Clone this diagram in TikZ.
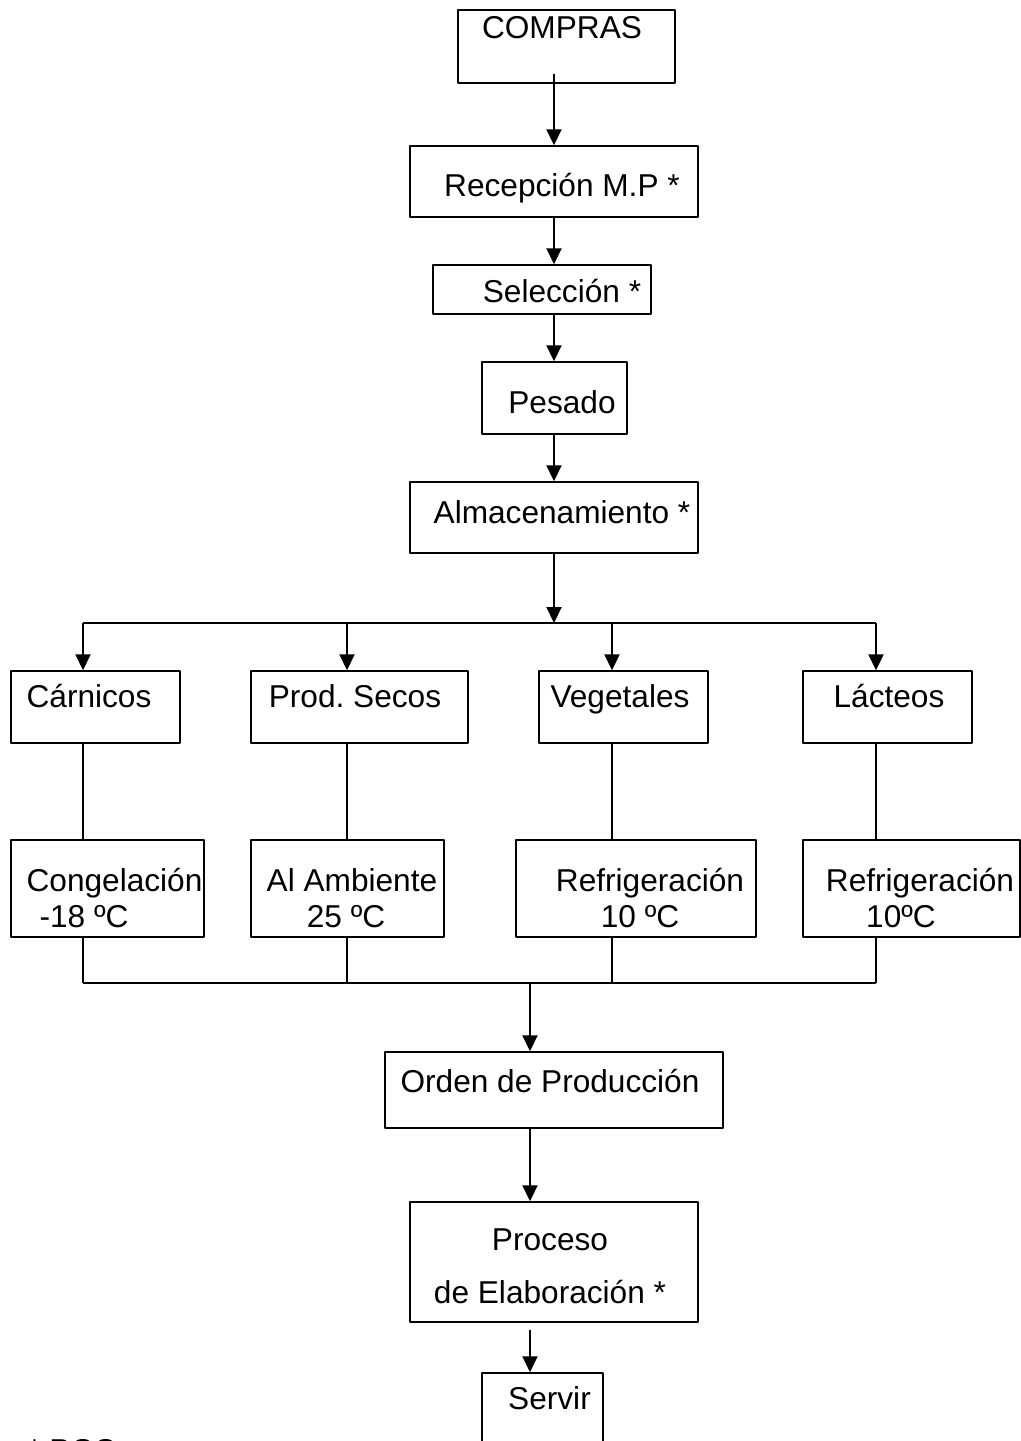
\documentclass[tikz,border=0pt]{standalone}
\usepackage{fontspec}
\setmainfont{Liberation Sans}
\usetikzlibrary{arrows.meta,calc}
\frenchspacing
\tikzset{
  caja/.style 2 args={draw,line width=0.85pt,inner sep=0pt,minimum width=#1*0.02cm,minimum height=#2*0.02cm},
  txt/.style={inner sep=0pt,text height=12.9pt,text depth=0pt},
  flecha/.style={line width=1.2pt,-{Triangle[length=3.2mm,width=3mm]}},
  linea/.style={line width=0.75pt}
}
\begin{document}
\begin{tikzpicture}[x=0.02cm,y=-0.02cm,line join=round,font=\fontsize{18}{21.6}\selectfont]
    \useasboundingbox (0,0) rectangle (1021,1441);
    \clip (0,0) rectangle (1021,1441);

    % cadena principal
    \node[caja={217}{73}] (compras) at (566.5,46.5) {};
    \node[txt] at (562,27) {COMPRAS};
    \node[caja={288}{71}] (recep) at (554,181.5) {};
    \node[txt] at (562,185) {Recepción M.P *};
    \node[caja={218}{49}] (selec) at (542,289.5) {};
    \node[txt] at (562,291) {Selección *};
    \node[caja={145}{72}] (pesado) at (554.5,398) {};
    \node[txt] at (562,402) {Pesado};
    \node[caja={288}{71}] (almac) at (554,517.5) {};
    \node[txt] at (562,512) {Almacenamiento *};

    \draw[flecha] ($(compras.south -| recep.north)+(0,-10)$) -- (recep.north);
    \draw[flecha] (recep.south) -- (recep.south |- selec.north);
    \draw[flecha] (recep.south |- selec.south) -- (recep.south |- pesado.north);
    \draw[flecha] (recep.south |- pesado.south) -- (almac.north);

    % grupos
    \node[caja={169}{72}] (carn) at (95.5,707) {};
    \node[txt] at (89,696) {Cárnicos};
    \node[caja={217}{72}] (secos) at (359.5,707) {};
    \node[txt] at (355,696) {Prod. Secos};
    \node[caja={169}{72}] (veget) at (623.5,707) {};
    \node[txt] at (620,696) {Vegetales};
    \node[caja={169}{72}] (lact) at (887.5,707) {};
    \node[txt] at (889,696) {Lácteos};

    % conservacion
    \node[caja={193}{97}] (cong) at (107.5,888.5) {};
    \node[txt] at (114.5,880.5) {Congelación};
    \node[txt] at (84,916.5) {-18 ºC};
    \node[caja={193}{97}] (amb) at (347.5,888.5) {};
    \node[txt] at (352,880.5) {Al Ambiente};
    \node[txt] at (346,916.5) {25 ºC};
    \node[caja={240}{97}] (refA) at (636,888.5) {};
    \node[txt] at (650,880.5) {Refrigeración};
    \node[txt] at (640,916.5) {10 ºC};
    \node[caja={217}{97}] (refB) at (911.5,888.5) {};
    \node[txt] at (920,880.5) {Refrigeración};
    \node[txt] at (901,916.5) {10ºC};

    \coordinate (bus) at (554,623);
    \draw[flecha] (almac.south) -- (bus);
    \foreach \x/\a/\b [count=\i] in {83/carn/cong,347/secos/amb,612/veget/refA,876/lact/refB}{
      \coordinate (t\i) at (\x,623);
      \coordinate (u\i) at (\x,983);
      \draw[flecha] (t\i) -- (t\i |- \a.north);
      \draw[linea] (t\i |- \a.south) -- (t\i |- \b.north);
      \draw[linea] (t\i |- \b.south) -- (u\i);
    }
    \draw[line width=1.1pt] (t1) -- (t4);
    \draw[linea] (u1) -- (u4);

    % produccion
    \node[caja={338}{76}] (orden) at (554,1090) {};
    \node[txt] at (550,1081) {Orden de Producción};
    \node[caja={288}{120}] (proceso) at (554,1262) {};
    \node[txt] at (550,1239) {Proceso};
    \node[txt] at (550,1292.5) {de Elaboración *};
    \node[caja={121}{100}] (servir) at (542.5,1423) {};
    \node[txt] at (549.5,1398) {Servir};

    \coordinate (rec) at (530,983);
    \draw[flecha] (rec) -- (rec |- orden.north);
    \draw[flecha] (rec |- orden.south) -- (rec |- proceso.north);
    \draw[flecha] ($(rec |- proceso.south)+(0,7)$) -- (rec |- servir.north);

    \node[txt,anchor=north west] (pcc) at (28,1438) {* PCC};
\end{tikzpicture}
\end{document}
